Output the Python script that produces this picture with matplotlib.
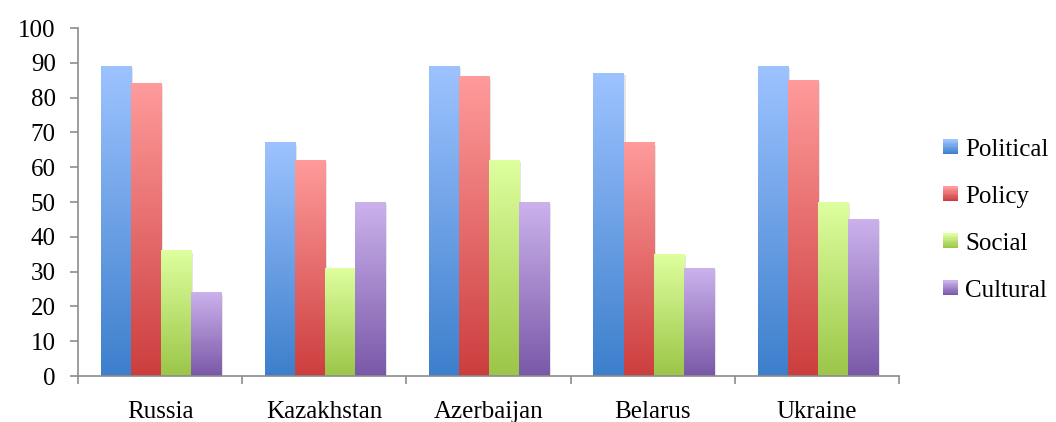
import matplotlib
matplotlib.use("Agg")
import matplotlib.pyplot as plt
import matplotlib.patches as mpatches
from matplotlib.legend_handler import HandlerBase
from matplotlib.colors import LinearSegmentedColormap
import numpy as np

plt.rcParams["font.family"] = ["Liberation Serif", "DejaVu Serif"]

countries = ["Russia", "Kazakhstan", "Azerbaijan", "Belarus", "Ukraine"]
series = ["Political", "Policy", "Social", "Cultural"]
political = [89, 67, 89, 87, 89]
policy = [84, 62, 86, 67, 85]
social = [36, 31, 62, 35, 50]
cultural = [24, 50, 50, 31, 45]
values = [political, policy, social, cultural]

# (top colour, bottom colour) for each series gradient
GRAD = [("#9DC3FF", "#3D7FCC"),
        ("#FF9B9B", "#CC3E3E"),
        ("#DEFF9E", "#9BC648"),
        ("#CBB2EC", "#7A58A8")]
AXIS_GREY = "#8C8C8C"
FS = 18

fig = plt.figure(figsize=(10.56, 4.22), dpi=100)
ax = fig.add_axes([0.0739, 0.109, 0.7775, 0.8246])

n = len(series)
w = 0.183
x = np.arange(len(countries))
grad = np.linspace(1, 0, 256).reshape(-1, 1)

for i, (vals, (top, bot)) in enumerate(zip(values, GRAD)):
    cmap = LinearSegmentedColormap.from_list(f"g{i}", [bot, top])
    for xc, v in zip(x, vals):
        left = xc - n * w / 2 + i * w + 0.005
        # soft shadow
        ax.add_patch(mpatches.Rectangle((left + 0.012, 0), w, v - 0.6,
                                        color="#000000", alpha=0.10,
                                        lw=0, zorder=1))
        ax.imshow(grad, cmap=cmap, aspect="auto", zorder=2,
                  extent=(left, left + w, 0, v), interpolation="bilinear")

ax.set_xlim(-0.5, len(countries) - 0.5)
ax.set_ylim(0, 100)
ax.set_yticks(range(0, 101, 10))
ax.set_xticks(x)
ax.set_xticklabels(countries)
ax.set_xticks(np.arange(-0.5, len(countries), 1), minor=True)
ax.tick_params(axis="x", which="major", length=0, pad=18, labelsize=FS)
ax.tick_params(axis="x", which="minor", length=6, color=AXIS_GREY, width=1.2)
ax.tick_params(axis="y", length=6, color=AXIS_GREY, width=1.2, labelsize=FS, pad=10)

for s in ["top", "right"]:
    ax.spines[s].set_visible(False)
for s in ["left", "bottom"]:
    ax.spines[s].set_color(AXIS_GREY)
    ax.spines[s].set_linewidth(1.2)


class GradHandler(HandlerBase):
    def __init__(self, top, bot):
        super().__init__()
        self.top, self.bot = top, bot

    def create_artists(self, legend, orig_handle, xdescent, ydescent,
                       width, height, fontsize, trans):
        cmap = LinearSegmentedColormap.from_list("lg", [self.bot, self.top])
        side = height * 0.85
        x0 = width - side
        y0 = -ydescent + (height - side) / 2
        k = 12
        arts = []
        for j in range(k):
            r = mpatches.Rectangle((x0, y0 + side * j / k), side, side / k + 0.2,
                                   facecolor=cmap(j / (k - 1)), lw=0,
                                   transform=trans)
            arts.append(r)
        return arts


handles = [mpatches.Patch(label=s) for s in series]
hmap = {h: GradHandler(t, b) for h, (t, b) in zip(handles, GRAD)}
fig.legend(handles=handles, handler_map=hmap, loc="center left",
           bbox_to_anchor=(0.889, 0.479), frameon=False, fontsize=FS,
           labelspacing=0.98, handlelength=0.75, handletextpad=0.3,
           borderpad=0, borderaxespad=0)

fig.savefig("out.png", dpi=100)
